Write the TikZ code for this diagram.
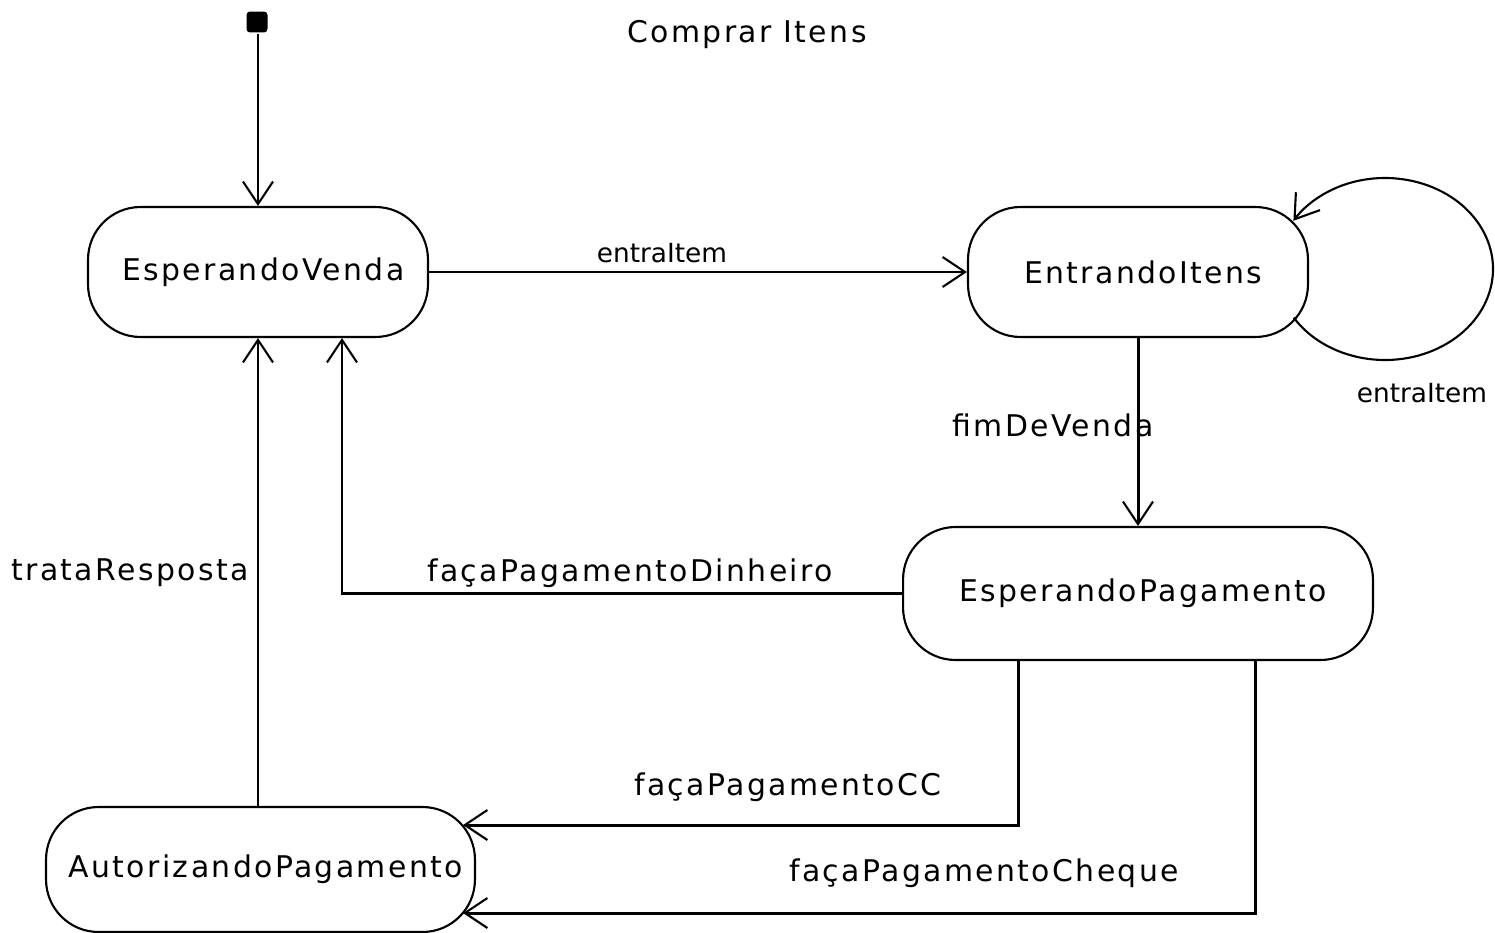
\documentclass[tikz,border=0pt]{standalone}
\usepackage{fontspec}
\newfontfamily\mainf{DejaVu Sans}[LetterSpace=8]
\newfontfamily\tightf{DejaVu Sans}
\usetikzlibrary{arrows.meta,calc}

\begin{document}
\begin{tikzpicture}[x=0.02cm,y=-0.02cm,line width=1.7pt,
  state/.style={draw,line width=1.2pt,rounded corners=1.05cm,inner sep=0pt,
    font=\mainf\fontsize{17}{20}\selectfont},
  lbl/.style={inner sep=0pt,font=\mainf\fontsize{17}{20}\selectfont},
  tlbl/.style={inner sep=0pt,font=\tightf\fontsize{15}{18}\selectfont},
  tr/.style={-{Straight Barb[length=0.45cm,width=0.6cm,line width=1.2pt]}}]
\useasboundingbox (0,0) rectangle (1495,933);

% title
\node[lbl] (title) at (747,35) {Comprar Itens};

% initial pseudo-state
\node[fill,rounded corners=2pt,minimum size=0.42cm,inner sep=0pt] (init) at (257,22) {};

% states
\node[state,minimum width=6.8cm,minimum height=2.6cm] (EV) at (258,272) {\hspace{6pt}EsperandoVenda};
\node[state,minimum width=6.8cm,minimum height=2.6cm] (EI) at (1138,272) {\hspace{6pt}EntrandoItens};
\node[state,minimum width=9.4cm,minimum height=2.66cm] (EP) at (1138,593.5) {\hspace{6pt}EsperandoPagamento};
\node[state,minimum width=8.58cm,minimum height=2.5cm] (AP) at (260.5,869.5) {\hspace{6pt}AutorizandoPagamento};

% entry points on the rounded side of AutorizandoPagamento
\coordinate (ccin) at (463,825);
\coordinate (chin) at (463,913);

% transitions
\draw[tr] (init.south -| EV.north) -- (EV.north);
\draw[tr] (EV.east) -- (EI.west);
\draw[tr] (EI.south) -- (EP.north);
\draw[tr] (EP.west) -| ($(EV.south)+(84,0)$);
\draw[tr] (EV.south |- AP.north) -- (EV.south);
\draw[tr] ($(EP.south)+(-120,0)$) |- (ccin);
\draw[tr] ($(EP.south)+(117,0)$) |- (chin);

% self-transition on EntrandoItens
\draw[tr,line width=1.2pt] (1385,269) ++(147.7:108 and 91) arc[start angle=147.7,end angle=-148,x radius=108,y radius=91];

% transition labels
\node[tlbl] (l1) at (662,253) {entraItem};
\node[tlbl] (l2) at (1422,393) {entraItem};
\node[lbl] (l3) at (1053,425) {fimDeVenda};
\node[lbl] (l4) at (130,573) {trataResposta};
\node[lbl] (l5) at (630,573) {façaPagamentoDinheiro};
\node[lbl] (l6) at (788,787) {façaPagamentoCC};
\node[lbl] (l7) at (984,873) {façaPagamentoCheque};
\end{tikzpicture}
\end{document}
